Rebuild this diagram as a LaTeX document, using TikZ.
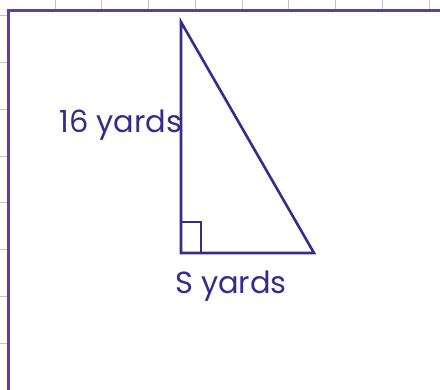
\documentclass[tikz,border=0pt]{standalone}
\usepackage{fontspec}
\setmainfont{Poppins}
\usepackage{tikz}
\usetikzlibrary{calc}
\definecolor{framecolor}{RGB}{104,58,160}
\definecolor{gridcolor}{RGB}{200,188,220}
\definecolor{shapecolor}{RGB}{58,42,140}
\tikzstyle{label} = [text=shapecolor, inner sep=0pt, font=\fontsize{30.5}{36}\selectfont]
\tikzstyle{side} = [draw=shapecolor, line width=2.6pt, line join=miter]

\begin{document}
\begin{tikzpicture}[x=1pt,y=-1pt]
\useasboundingbox (0,0) rectangle (440,390);
\clip (0,0) rectangle (440,390);
\fill[white] (0,0) rectangle (440,390);

%% Grid ticks %%
\foreach \gx in {55,101,148,195,242,288,335,382,429}
  \draw[gridcolor, line width=1pt] (\gx,0) -- (\gx,11);
\foreach \gy in {16,63,110,157,203,250,297,344}
  \draw[gridcolor, line width=1pt] (0,\gy) -- (8,\gy);

%% Frame %%
\draw[framecolor, line width=3pt] (8,400) -- (8,11) -- (450,11);

%% Triangle %%
\coordinate (Top) at (181,22);
\coordinate (Corner) at (181,253);
\coordinate (Right) at (314,253);
\draw[side] (Top) -- (Corner) -- (Right) -- cycle;
\draw[side, line width=2.2pt] ($(Corner)+(0,-31)$) -| ($(Corner)+(20,0)$);

%% Labels %%
\node [label, anchor=base] (Height) at (121,133) {16 yards};
\node [label, anchor=base] (Base) at (231,294) {S yards};
\end{tikzpicture}
\end{document}
